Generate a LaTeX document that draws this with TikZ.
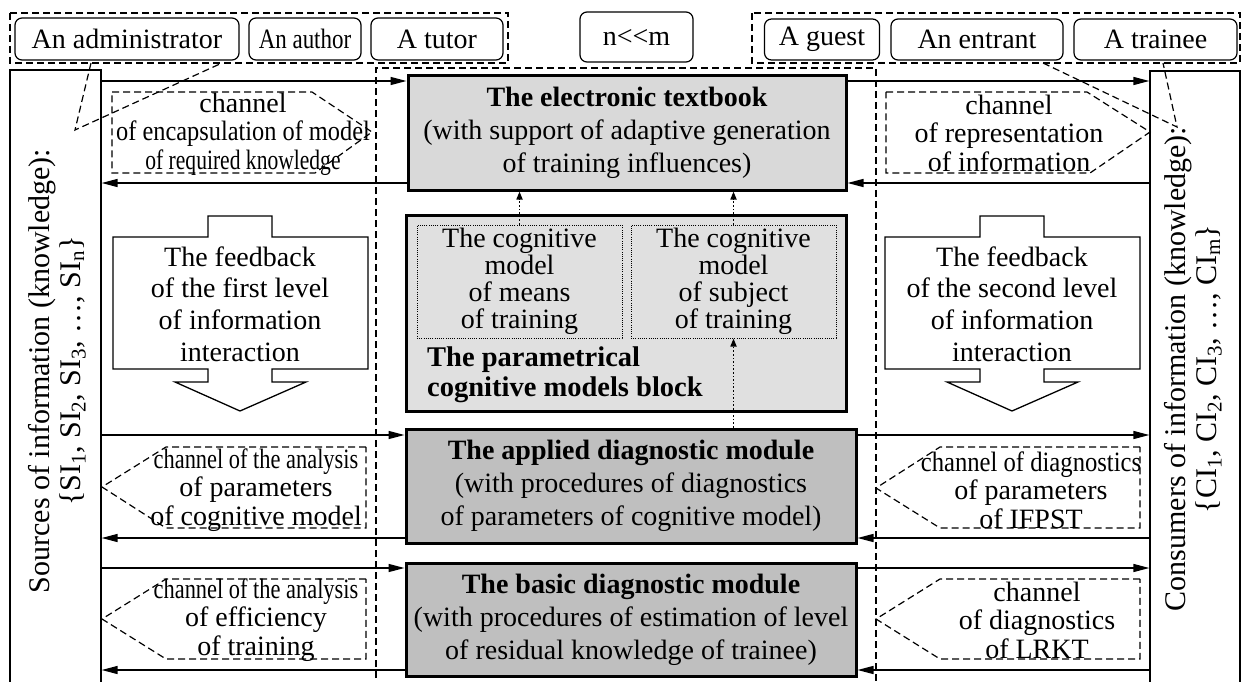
\documentclass[tikz,border=0pt]{standalone}
\usepackage{graphicx}
\usepackage{fontspec}
\setmainfont{Liberation Serif}
\usetikzlibrary{arrows.meta,calc}
\newcommand{\sq}[2]{\scalebox{#1}[1]{#2}}
\begin{document}
\begin{tikzpicture}[x=1pt,y=-1pt,
  actor/.style={draw, rounded corners=7pt, line width=1.2pt, inner sep=0pt,
    font=\fontsize{28}{32}\selectfont},
  side/.style={draw, line width=1.3pt, inner sep=0pt},
  modbox/.style={draw, line width=3pt, inner sep=0pt, align=center,
    font=\fontsize{28}{33}\selectfont},
  cogbox/.style={draw, line width=1pt, dash pattern=on 1pt off 1.2pt, inner sep=0pt,
    align=center, font=\fontsize{28}{27}\selectfont},
  arr/.style={line width=1.4pt, -{Triangle[length=16pt,width=8pt]}},
  dotarr/.style={line width=1.6pt, dash pattern=on 1.6pt off 2pt, -{Triangle[length=8pt,width=6pt]}},
  dsh/.style={line width=1.2pt, dash pattern=on 7pt off 4pt},
  chan/.style={font=\fontsize{28}{28.5}\selectfont, align=center, inner sep=0pt},
  fbtxt/.style={font=\fontsize{28}{31.7}\selectfont, align=center, inner sep=0pt},
  rottxt/.style={rotate=90, font=\fontsize{30}{31}\selectfont, align=center, inner sep=0pt}
]
\clip (0,0) rectangle (1242,682);
\fill[white] (0,0) rectangle (1242,682);

% actors
\node[actor, minimum width=224pt, minimum height=42pt] (adm) at (127,39) {An administrator};
\node[actor, minimum width=112pt, minimum height=42pt] (aut) at (305,39) {\sq{0.82}{An author}};
\node[actor, minimum width=132pt, minimum height=42pt] (tut) at (437,39) {A tutor};
\node[actor, minimum width=113pt, minimum height=50pt] (nm) at (636.5,37) {n<{}<m};
\node[actor, minimum width=115pt, minimum height=41pt] (gst) at (822,39.5) {A guest};
\node[actor, minimum width=172pt, minimum height=41pt] (ent) at (977,39.5) {An entrant};
\node[actor, minimum width=163pt, minimum height=41pt] (trn) at (1155.5,39.5) {A trainee};

% dashed groups and callouts
\draw[dsh] (10,13) rectangle (508,63);
\draw[dsh] (91,63) -- (75,130) -- (222,63);
\draw[dsh] (752,13) rectangle (1240,63);
\draw[dsh] (1043,63) -- (1177,127) -- (1163,63);
\draw[dsh] (376,700) -- (376,68) -- (876,68) -- (876,700);

% side boxes
\node[side, minimum width=91pt, minimum height=640pt] (src) at (55.5,390) {};
\node[side, minimum width=90pt, minimum height=640pt] (cons) at (1195,391) {};
\node[rottxt] (srct) at (57,371) {Sources of information (knowledge):\\\{SI\textsubscript{1}, SI\textsubscript{2}, SI\textsubscript{3}, …, SI\textsubscript{n}\}};
\node[rottxt] (const) at (1193,369) {Consumers of information (knowledge):\\\{CI\textsubscript{1}, CI\textsubscript{2}, CI\textsubscript{3}, …, CI\textsubscript{m}\}};

% central modules
\node[modbox, fill=black!15, minimum width=438pt, minimum height=114pt] (tb) at (627,133)
  {\textbf{The electronic textbook}\\(with support of adaptive generation\\of training influences)};
\node[modbox, fill=black!12, minimum width=440pt, minimum height=196pt] (pcm) at (626,313) {};
\node[cogbox, minimum width=205pt, minimum height=113pt] (cogL) at (519.5,281.5)
  {The cognitive\\model\\of means\\of training};
\node[cogbox, minimum width=205pt, minimum height=113pt] (cogR) at (733.5,281.5)
  {The cognitive\\model\\of subject\\of training};
\node[anchor=west, align=left, inner sep=0pt, font=\fontsize{28.5}{30}\selectfont\bfseries] (pcmt) at (427,375)
  {The parametrical\\cognitive models block};
\node[modbox, fill=black!25, minimum width=450pt, minimum height=114pt] (adm2) at (631,486)
  {\textbf{The applied diagnostic module}\\(with procedures of diagnostics\\of parameters of cognitive model)};
\node[modbox, fill=black!25, minimum width=450pt, minimum height=113pt] (bas) at (631,619.5)
  {\textbf{The basic diagnostic module}\\(with procedures of estimation of level\\of residual knowledge of trainee)};

% level coordinates
\coordinate (l1) at (0,81);
\coordinate (l2) at (0,183);
\coordinate (l3) at (0,435);
\coordinate (l4) at (0,538);
\coordinate (l5) at (0,568);
\coordinate (l6) at (0,670);

% flows
\draw[arr] (src.east |- l1) -- (tb.west |- l1);
\draw[arr] (tb.east |- l1) -- (cons.west |- l1);
\draw[arr] (cons.west |- l2) -- (tb.east |- l2);
\draw[arr] (tb.west |- l2) -- (src.east |- l2);
\draw[arr] (src.east |- l3) -- (adm2.west |- l3);
\draw[arr] (adm2.east |- l3) -- (cons.west |- l3);
\draw[arr] (cons.west |- l4) -- (adm2.east |- l4);
\draw[arr] (adm2.west |- l4) -- (src.east |- l4);
\draw[arr] (src.east |- l5) -- (bas.west |- l5);
\draw[arr] (bas.east |- l5) -- (cons.west |- l5);
\draw[arr] (cons.west |- l6) -- (bas.east |- l6);
\draw[arr] (bas.west |- l6) -- (src.east |- l6);

% dotted links
\draw[dotarr] (cogL.north) -- (cogL.north |- tb.south);
\draw[dotarr] (cogR.north) -- (cogR.north |- tb.south);
\draw[dotarr] (cogR.south |- adm2.north) -- (cogR.south);

% feedback block arrows
\draw[line width=1.3pt] (208,216) -- (272,216) -- (272,237) -- (368,237) -- (368,369) -- (272,369) -- (272,382) -- (306,382) -- (240,411) -- (175,382) -- (208,382) -- (208,369) -- (113,369) -- (113,237) -- (208,237) -- cycle;
\node[fbtxt] (fbL) at (240,304) {The feedback\\of the first level\\of information\\interaction};
\begin{scope}[xshift=772pt]
\draw[line width=1.3pt] (208,216) -- (272,216) -- (272,237) -- (368,237) -- (368,369) -- (272,369) -- (272,382) -- (306,382) -- (240,411) -- (175,382) -- (208,382) -- (208,369) -- (113,369) -- (113,237) -- (208,237) -- cycle;
\end{scope}
\node[fbtxt] (fbR) at (1012,304) {The feedback\\of the second level\\of information\\interaction};

% channels
\draw[dsh] (112,92) -- (312,92) -- (372,132) -- (315,173) -- (112,173) -- cycle;
\node[chan] (ch1) at (243,134) {channel\\\sq{0.87}{of encapsulation of model}\\\sq{0.77}{of required knowledge}};
\draw[dsh] (886,92) -- (1087,92) -- (1150,132) -- (1090,173) -- (886,173) -- cycle;
\node[chan] (ch2) at (1009,133) {channel\\of representation\\of information};
\draw[dsh] (366,447) -- (166,447) -- (102,487) -- (166,528) -- (366,528) -- cycle;
\node[chan] (ch3) at (256,490) {\sq{0.8}{channel of the analysis}\\of parameters\\of cognitive model};
\draw[dsh] (366,579) -- (166,579) -- (102,619) -- (166,659) -- (366,659) -- cycle;
\node[chan] (ch4) at (256,620) {\sq{0.8}{channel of the analysis}\\of efficiency\\of training};
\draw[dsh] (1140,447) -- (940,447) -- (876,488) -- (940,528) -- (1140,528) -- cycle;
\node[chan] (ch5) at (1031,490) {\sq{0.88}{channel of diagnostics}\\of parameters\\of IFPST};
\draw[dsh] (1140,579) -- (940,579) -- (876,619) -- (940,659) -- (1140,659) -- cycle;
\node[chan] (ch6) at (1037,620) {channel\\of diagnostics\\of LRKT};
\end{tikzpicture}
\end{document}
